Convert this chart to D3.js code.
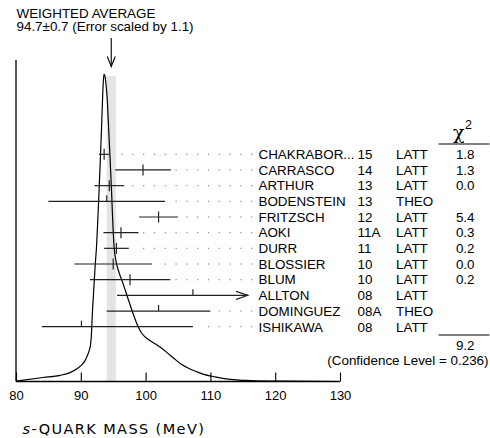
<!DOCTYPE html>
<html><head><meta charset="utf-8">
<script src="https://cdn.jsdelivr.net/npm/d3@7"></script>
<style>
html,body{margin:0;padding:0;background:#fff;}
svg text{font-family:"Liberation Sans",Arial,Helvetica,sans-serif;}
</style></head>
<body><svg id="c" width="490" height="438"></svg>
<script>
// ---- data ----
const names  = ["CHAKRABOR...","CARRASCO","ARTHUR","BODENSTEIN","FRITZSCH","AOKI","DURR","BLOSSIER","BLUM","ALLTON","DOMINGUEZ","ISHIKAWA"];
const years  = ["15","14","13","13","12","11A","11","10","10","08","08A","08"];
const techs  = ["LATT","LATT","LATT","THEO","LATT","LATT","LATT","LATT","LATT","LATT","THEO","LATT"];
const values = [93.6, 99.6, 94.4, 94.0, 102.0, 96.2, 95.5, 95.0, 97.6, 107.3, 102.0, 90.1];
const errLow = [0.8, 4.3, 2.3, 9.0, 3.0, 2.7, 1.9, 6.0, 6.2, 11.7, 8.0, 6.1];
const errHigh= [0.8, 4.3, 2.3, 9.0, 3.0, 2.7, 1.9, 6.0, 6.2, 11.7, 8.0, 17.2];
const chi2   = ["1.8","1.3","0.0","","5.4","0.3","0.2","0.0","0.2","","",""];
const chi2Total = "9.2";
const confLevel = "(Confidence Level = 0.236)";
const avgValue = 94.7, avgError = 0.7;
const titleLines = ["WEIGHTED AVERAGE", "94.7\u00b10.7 (Error scaled by 1.1)"];
const xTicks = [80, 90, 100, 110, 120, 130];
const curveMass = [80.00,84.17,86.79,88.33,89.57,90.19,90.65,91.03,91.34,91.53,91.65,91.77,91.93,92.08,92.24,92.42,92.55,92.76,93.01,93.19,93.35,93.47,93.58,
  93.73,93.89,94.09,94.27,94.46,94.74,94.89,95.12,95.51,95.90,96.51,97.28,98.06,98.83,99.44,100.22,101.14,102.22,103.30,104.38,105.46,106.54,107.62,108.86,110.71,113.02,116.11,120.74,130.00];
const curveHeight = [0.001,0.013,0.020,0.029,0.044,0.055,0.068,0.085,0.104,0.124,0.156,0.215,0.274,0.329,0.384,0.436,0.492,0.590,0.720,0.818,0.915,0.974,1.000,
  0.993,0.967,0.915,0.834,0.752,0.622,0.541,0.443,0.384,0.355,0.319,0.270,0.221,0.179,0.156,0.140,0.127,0.112,0.094,0.075,0.057,0.044,0.034,0.024,0.015,0.007,0.003,0.001,0.000];

// ---- layout ----
const svg = d3.select("#c");
const axisY = 381.5;
const x = d3.scaleLinear().domain([80, 130]).range([16, 340]);
const yc = d3.scaleLinear().domain([0, 1]).range([axisY, 74]);
const yr = d3.scalePoint().domain(d3.range(names.length)).range([154.3, 326.7]);
const clipRight = 248;   // error bars stop here (arrow)
const labelX = 258.5, yearX = 357.5, techX = 396, chiX = 474.5;
const fs = "13.4px";

// title
svg.selectAll("text.title").data(titleLines).enter().append("text")
  .attr("x", 16.5).attr("y", (d,i) => 17.6 + i*13.8)
  .attr("font-size", fs).text(d => d);

// arrow to average
const ax = x(avgValue);
svg.append("line").attr("x1", ax).attr("x2", ax).attr("y1", 38).attr("y2", 66.5)
  .attr("stroke", "#000").attr("stroke-width", 1.1);
svg.append("path").attr("d", `M${ax-4},56.5 L${ax},66.5 L${ax+4},56.5`)
  .attr("fill", "none").attr("stroke", "#000").attr("stroke-width", 1.1);

// band
svg.append("rect").attr("x", x(avgValue - avgError)).attr("width", x(avgValue + avgError) - x(avgValue - avgError))
  .attr("y", 76).attr("height", axisY - 76).attr("fill", "#e4e4e4");

// ideogram curve
const line = d3.line().x((d,i) => x(curveMass[i])).y((d,i) => yc(curveHeight[i])).curve(d3.curveMonotoneX);
svg.append("path").datum(curveMass).attr("d", line)
  .attr("fill", "none").attr("stroke", "#000").attr("stroke-width", 1.2);

// axes
svg.append("line").attr("x1", 16).attr("x2", 16).attr("y1", 60).attr("y2", axisY)
  .attr("stroke", "#000").attr("stroke-width", 1.3);
const xAxis = d3.axisBottom(x).tickValues(xTicks).tickSize(-9).tickPadding(0).tickFormat(d3.format("d"));
const gx = svg.append("g").attr("transform", `translate(0,${axisY})`).call(xAxis);
gx.select(".domain").attr("stroke", "#000").attr("stroke-width", 1.3).attr("d", `M16,0H340`);
gx.selectAll(".tick line").attr("stroke", "#000").attr("stroke-width", 1.1);
gx.selectAll(".tick text").attr("y", 18.5).attr("dy", 0).attr("font-size", "13px")
  .attr("font-family", "Liberation Sans, Arial, sans-serif").attr("fill", "#000");

// axis title
const at = svg.append("text").attr("x", 22.5).attr("y", 434.3)
  .attr("font-family", "DejaVu Sans, sans-serif").attr("font-size", "14.5px").attr("letter-spacing", "1.4px");
at.append("tspan").attr("font-style", "italic").attr("font-family", "DejaVu Sans, sans-serif").text("s");
at.append("tspan").attr("font-family", "DejaVu Sans, sans-serif").text("-QUARK MASS (MeV)");

// rows
const rows = svg.selectAll("g.row").data(names).enter().append("g").attr("class", "row");
rows.each(function(name, i) {
  const g = d3.select(this);
  const yy = yr(i);
  const lo = x(values[i] - errLow[i]);
  const hiRaw = x(values[i] + errHigh[i]);
  const hi = Math.min(hiRaw, clipRight);
  const used = chi2[i] !== "";
  g.append("line").attr("x1", lo).attr("x2", hi).attr("y1", yy).attr("y2", yy)
    .attr("stroke", "#222").attr("stroke-width", 1.2);
  const cx = x(values[i]);
  g.append("line").attr("x1", cx).attr("x2", cx)
    .attr("y1", used ? yy - 5.5 : yy - 6).attr("y2", used ? yy + 5.5 : yy)
    .attr("stroke", "#222").attr("stroke-width", 1.2);
  if (hiRaw > clipRight) {
    g.append("path").attr("d", `M${clipRight-12},${yy-4} L${clipRight},${yy} L${clipRight-12},${yy+4}`)
      .attr("fill", "none").attr("stroke", "#222").attr("stroke-width", 1.1);
  }
  // dotted leaders
  const dots = [];
  for (let k = 0; k < 30; k++) {
    const dx = 251.7 - k*10.8;
    if (dx > hi + 5) dots.push(dx);
  }
  g.selectAll("rect.dot").data(dots).enter().append("rect")
    .attr("x", d => d - 0.6).attr("y", yy - 0.6).attr("width", 1.2).attr("height", 1.2).attr("fill", "#888");
  const by = yy + 4.8;
  g.append("text").attr("x", labelX).attr("y", by).attr("font-size", fs).text(name);
  g.append("text").attr("x", yearX).attr("y", by).attr("font-size", fs).text(years[i]);
  g.append("text").attr("x", techX).attr("y", by).attr("font-size", fs).text(techs[i]);
  if (used) g.append("text").attr("x", chiX).attr("y", by).attr("text-anchor", "end").attr("font-size", fs).text(chi2[i]);
});

// chi2 header
const ch = svg.append("text").attr("x", 453).attr("y", 139);
ch.append("tspan").attr("font-family", "DejaVu Serif, serif").attr("font-size", "19px").text("\u03c7");
ch.append("tspan").attr("font-size", "12.5px").attr("dy", -10).attr("dx", 0.5).text("2");
svg.append("line").attr("x1", 438.5).attr("x2", 489.5).attr("y1", 144).attr("y2", 144).attr("stroke", "#000").attr("stroke-width", 1.1);
svg.append("line").attr("x1", 438.5).attr("x2", 489.5).attr("y1", 335).attr("y2", 335).attr("stroke", "#000").attr("stroke-width", 1.1);
svg.append("text").attr("x", chiX).attr("y", 350.3).attr("text-anchor", "end").attr("font-size", fs).text(chi2Total);
svg.append("text").attr("x", 488.5).attr("y", 364.8).attr("text-anchor", "end").attr("font-size", fs).text(confLevel);
</script></body></html>
